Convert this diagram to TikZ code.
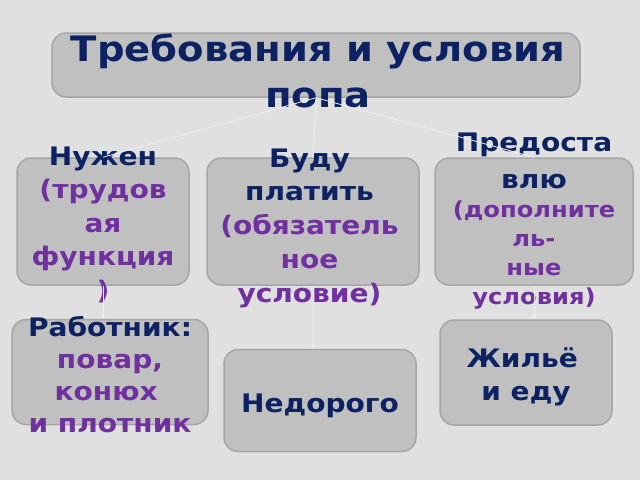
\documentclass[tikz,border=0pt]{standalone}
\usepackage{fontspec}
\setmainfont{DejaVu Sans}[FakeStretch=1.1]
\usetikzlibrary{arrows.meta}
\definecolor{bgc}{HTML}{E0E0E0}
\definecolor{boxfill}{HTML}{C0C0C0}
\definecolor{boxline}{HTML}{A6A6A6}
\definecolor{navy}{HTML}{0C2262}
\definecolor{purp}{HTML}{7030A0}
\definecolor{connc}{HTML}{EEEEEE}
\newcommand\purptext[1]{\textcolor{purp}{#1}}
\newcommand\smallpurp[1]{\textcolor{purp}{\fontsize{22}{29}\selectfont #1}}
\begin{document}
\begin{tikzpicture}[x=1pt,y=-1pt,
  box/.style={draw=boxline, line width=1.5pt, fill=boxfill, rounded corners=14pt, inner sep=0pt},
  txt/.style={inner sep=0pt, align=center, text=navy, font=\bfseries\fontsize{25.5}{29}\selectfont},
  ttl/.style={inner sep=0pt, align=center, text=navy, font=\bfseries\fontsize{35}{46}\selectfont},
  connline/.style={draw=connc, line width=0.8pt},
  connarrow/.style={connline, -{Stealth[length=5pt,width=4pt]}}]
\fill[bgc] (0,0) rectangle (640,480);
\useasboundingbox (0,0) rectangle (640,480);

\node[box, minimum width=528pt, minimum height=64pt] (top) at (316,65) {};
\node[box, minimum width=172pt, minimum height=127pt] (b1) at (103,221.5) {};
\node[box, minimum width=212pt, minimum height=127pt] (b2) at (313,221.5) {};
\node[box, minimum width=198pt, minimum height=127pt] (b3) at (534,221.5) {};
\node[box, minimum width=196pt, minimum height=105pt] (b4) at (110,372) {};
\node[box, minimum width=192pt, minimum height=102pt] (b5) at (320,400.5) {};
\node[box, minimum width=172pt, minimum height=105pt] (b6) at (526,372.5) {};

\node[ttl] (ttltext) at (318,70.5) {Требования и условия\\попа};
\node[txt, font=\bfseries\fontsize{25.5}{33.5}\selectfont] (t1) at (103,224.4) {Нужен\\\purptext{(трудов}\\\purptext{ая}\\\purptext{функция}\\\purptext{)}};
\node[txt, font=\bfseries\fontsize{25.5}{33.75}\selectfont] (t2) at (309.5,228.2) {Буду\\платить\\\purptext{(обязатель}\\\purptext{ное}\\\purptext{условие)}};
\node[txt] (t3) at (534,221.5) {Предоста\\[8pt]влю\\\smallpurp{(дополните}\\\smallpurp{ль-}\\\smallpurp{ные}\\\smallpurp{условия)}};
\node[txt, font=\bfseries\fontsize{25.5}{32}\selectfont] (t4) at (110,374.5) {Работник:\\\purptext{повар,}\\\purptext{конюх\hspace*{0.3em}}\\\purptext{и плотник}};
\node[txt] (t5) at (320,405.5) {Недорого};
\node[txt, font=\bfseries\fontsize{25.5}{33}\selectfont] (t6) at (526,376.5) {Жильё\hspace*{0.3em}\\и еду};

\draw[connline] (top.south) -- (b1.north);
\draw[connline] (top.south) -- (b2.north);
\draw[connline] (top.south) -- (b3.north);
\draw[connarrow] (b1.south) -- (b1.south |- b4.north);
\draw[connarrow] (b2.south) -- (b2.south |- b5.north);
\draw[connarrow] (b3.south) -- (b3.south |- b6.north);
\end{tikzpicture}
\end{document}
